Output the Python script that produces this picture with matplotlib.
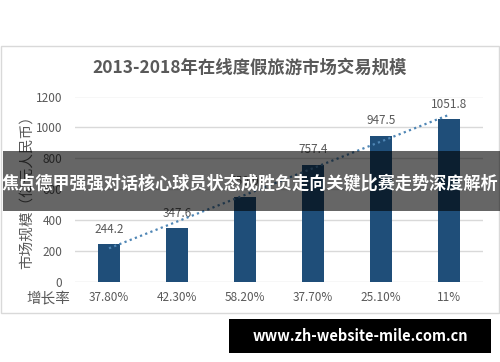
import matplotlib
matplotlib.use("Agg")
import matplotlib.pyplot as plt
import numpy as np
from matplotlib.patches import Rectangle

plt.rcParams['font.family'] = ['Noto Sans CJK SC', 'DejaVu Sans']

years = ["2013", "2014", "2015", "2016", "2017", "2018"]
values = [244.2, 347.6, 550.0, 757.4, 947.5, 1051.8]
value_labels = ["244.2", "347.6", "550.0", "757.4", "947.5", "1051.8"]
growth = ["37.80%", "42.30%", "58.20%", "37.70%", "25.10%", "11%"]
yticks = [0, 200, 400, 600, 800, 1000, 1200]
title = "2013-2018年在线度假旅游市场交易规模"
ylabel = "市场规模（亿元人民币）"
growth_label = "增长率"
banner = "焦点德甲强强对话核心球员状态成胜负走向关键比赛走势深度解析"
watermark = "www.zh-website-mile.com.cn"

W, H = 500, 362
fig = plt.figure(figsize=(W/100, H/100), dpi=100)
fig.patch.set_facecolor("white")

def fx(px): return px / W
def fy(py): return 1 - py / H

# chart frame
fig.patches.append(Rectangle((fx(1), fy(313)), fx(498), (313-46)/H,
                             transform=fig.transFigure, fill=False,
                             edgecolor="#d9d9d9", linewidth=1, zorder=0))

ax = fig.add_axes([fx(75), fy(282), 408/W, (282-96.5)/H])
x = np.arange(len(values))
ax.bar(x, values, width=0.31, color="#1f4e79", zorder=3)
for xi, v, lab in zip(x, values, value_labels):
    ax.text(xi, v + 55, lab, ha="center", va="bottom", fontsize=8.5, color="#595959")

# linear trendline
coef = np.polyfit(x, values, 1)
ax.plot(x, np.polyval(coef, x), linestyle=(0, (1, 1.5)), color="#4f86b5",
        linewidth=1.6, zorder=4)

ax.set_xlim(-0.5, 5.5)
ax.set_ylim(0, 1200)
ax.set_yticks(yticks)
ax.set_yticklabels([str(t) for t in yticks], fontsize=8.5, color="#595959")
ax.set_xticks([])
ax.tick_params(axis="y", length=0, pad=9)
ax.grid(axis="y", color="#d9d9d9", linewidth=1, zorder=0)
for s in ax.spines.values():
    s.set_visible(False)
ax.set_axisbelow(True)

# growth row
for xi, g in zip(x, growth):
    ax.text(xi, -0.085, g, transform=ax.get_xaxis_transform(), ha="center",
            va="center", fontsize=8.5, color="#595959")
fig.text(fx(48), fy(298), growth_label, ha="center", va="center",
         fontsize=10.5, color="#595959")

fig.text(fx(27), fy(189), ylabel, rotation=90, ha="center", va="center",
         fontsize=10.5, color="#595959")

fig.text(fx(250), fy(68), title, ha="center", va="center", fontsize=12.5,
         fontweight="bold", color="#595959")

# banner overlay
fig.patches.append(Rectangle((fx(3), fy(211)), fx(497), (211-151)/H,
                             transform=fig.transFigure, facecolor="black",
                             alpha=0.6, edgecolor="none", zorder=10))
fig.text(fx(250), fy(184), banner, ha="center", va="center", fontsize=12.3,
         fontweight="bold", color="white", zorder=11)

# watermark
fig.patches.append(Rectangle((fx(229), fy(353)), fx(262), (353-319)/H,
                             transform=fig.transFigure, facecolor="black",
                             edgecolor="none", zorder=10))
fig.text(fx(360), fy(336), watermark, ha="center", va="center", fontsize=10.5,
         fontweight="bold", color="white", zorder=11)

fig.savefig("out.png", dpi=100)
